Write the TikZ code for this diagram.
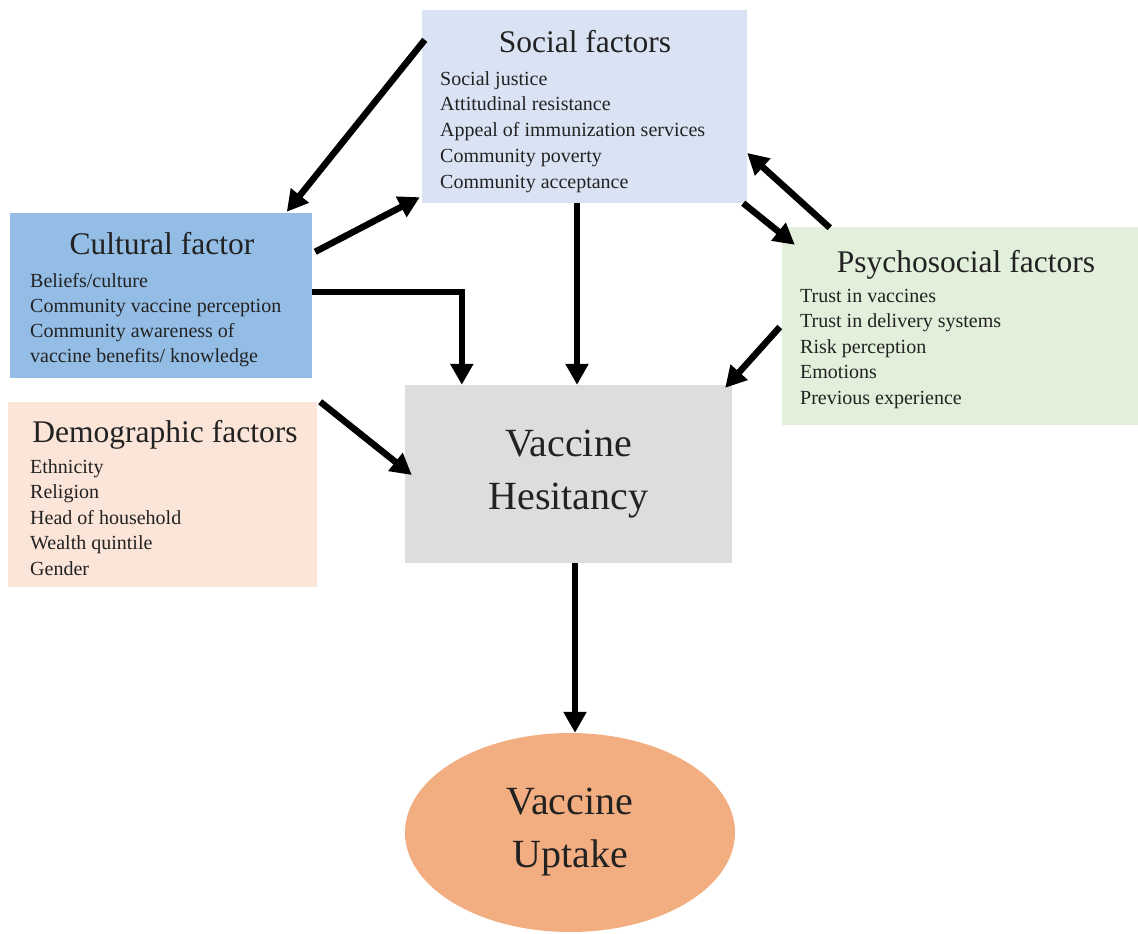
\documentclass[tikz,border=0pt]{standalone}
\usepackage{fontspec}
\setmainfont{Liberation Serif}
\usepackage{xcolor}
\usepackage{tikz}
\usetikzlibrary{arrows.meta,shapes.geometric}

\definecolor{socialblue}{HTML}{DAE3F3}
\definecolor{culturalblue}{HTML}{94BDE6}
\definecolor{demogpink}{HTML}{FBE4D8}
\definecolor{psychogreen}{HTML}{E2EFDA}
\definecolor{hesitgray}{HTML}{DDDDDD}
\definecolor{uptakeorange}{HTML}{F2AE80}
\definecolor{txt}{HTML}{222222}

\tikzset{
	box/.style={rectangle, draw=none, inner sep=0pt},
	heading/.style={inner sep=0pt, text=txt, font=\fontsize{31.5}{36}\selectfont, text height=22pt, text depth=7pt},
	item/.style={anchor=west, inner sep=0pt, text=txt, font=\fontsize{20}{24}\selectfont, text height=14pt, text depth=4pt},
	bigtext/.style={text=txt, font=\fontsize{40}{53}\selectfont, align=center},
	arr/.style={line width=6.5pt, black, -{Triangle[length=21pt,width=22pt]}}
}

\begin{document}
\begin{tikzpicture}[x=1pt,y=-1pt]

\path[use as bounding box, fill=white] (0,0) rectangle (1138,934);

\node[box, fill=socialblue, minimum width=325, minimum height=193] (social) at (584.5,106.5) {};
\node[box, fill=culturalblue, minimum width=302, minimum height=165] (cultural) at (161,295.5) {};
\node[box, fill=demogpink, minimum width=309, minimum height=185] (demog) at (162.5,494.5) {};
\node[box, fill=psychogreen, minimum width=356, minimum height=198] (psycho) at (960,326) {};
\node[box, fill=hesitgray, minimum width=327, minimum height=178, bigtext] (hesit) at (568.5,474) {Vaccine\\Hesitancy};
\node[ellipse, fill=uptakeorange, minimum width=330, minimum height=199, inner sep=0pt, bigtext] (uptake) at (570,832.5) {Vaccine\\Uptake};

\node[heading] (socialtitle) at (585,45) {Social factors};
\foreach \t [count=\i] in {Social justice, Attitudinal resistance, Appeal of immunization services, Community poverty, Community acceptance}{
	\node[item] (soc\i) at (440,{80+25.75*(\i-1)}) {\t};
}

\node[heading] (culturaltitle) at (162,247) {Cultural factor};
\foreach \t [count=\i] in {Beliefs/culture, Community vaccine perception, Community awareness of, vaccine benefits/ knowledge}{
	\node[item] (cul\i) at (30,{282+25*(\i-1)}) {\t};
}

\node[heading] (demogtitle) at (165,435) {Demographic factors};
\foreach \t [count=\i] in {Ethnicity, Religion, Head of household, Wealth quintile, Gender}{
	\node[item] (dem\i) at (30,{468+25.5*(\i-1)}) {\t};
}

\node[heading] (psychotitle) at (966,265) {Psychosocial factors};
\foreach \t [count=\i] in {Trust in vaccines, Trust in delivery systems, Risk perception, Emotions, Previous experience}{
	\node[item] (psy\i) at (800,{297+25.5*(\i-1)}) {\t};
}

\draw[arr] ([shift={(3,30)}]social.north west) -- ([shift={(277,-1)}]cultural.north west);
\draw[arr] ([shift={(3,39)}]cultural.north east) -- ([shift={(-2,-6)}]social.south west);
\draw[arr] ([shift={(0,-3.5)}]cultural.east) -| ([xshift=57]hesit.north west);
\draw[arr] ([xshift=-7.5]social.south) -- ([xshift=8.5]hesit.north);
\draw[arr] ([xshift=-4]social.south east) -- ([shift={(13,18)}]psycho.north west);
\draw[arr] ([shift={(48,1)}]psycho.north west) -- ([shift={(0,46.5)}]social.east);
\draw[arr] ([shift={(-2,1)}]psycho.west) -- ([shift={(-7,3)}]hesit.north east);
\draw[arr] ([xshift=3]demog.north east) -- ([shift={(7,1)}]hesit.west);
\draw[arr] ([xshift=6.5]hesit.south) -- ([xshift=5]uptake.north);

\end{tikzpicture}
\end{document}
